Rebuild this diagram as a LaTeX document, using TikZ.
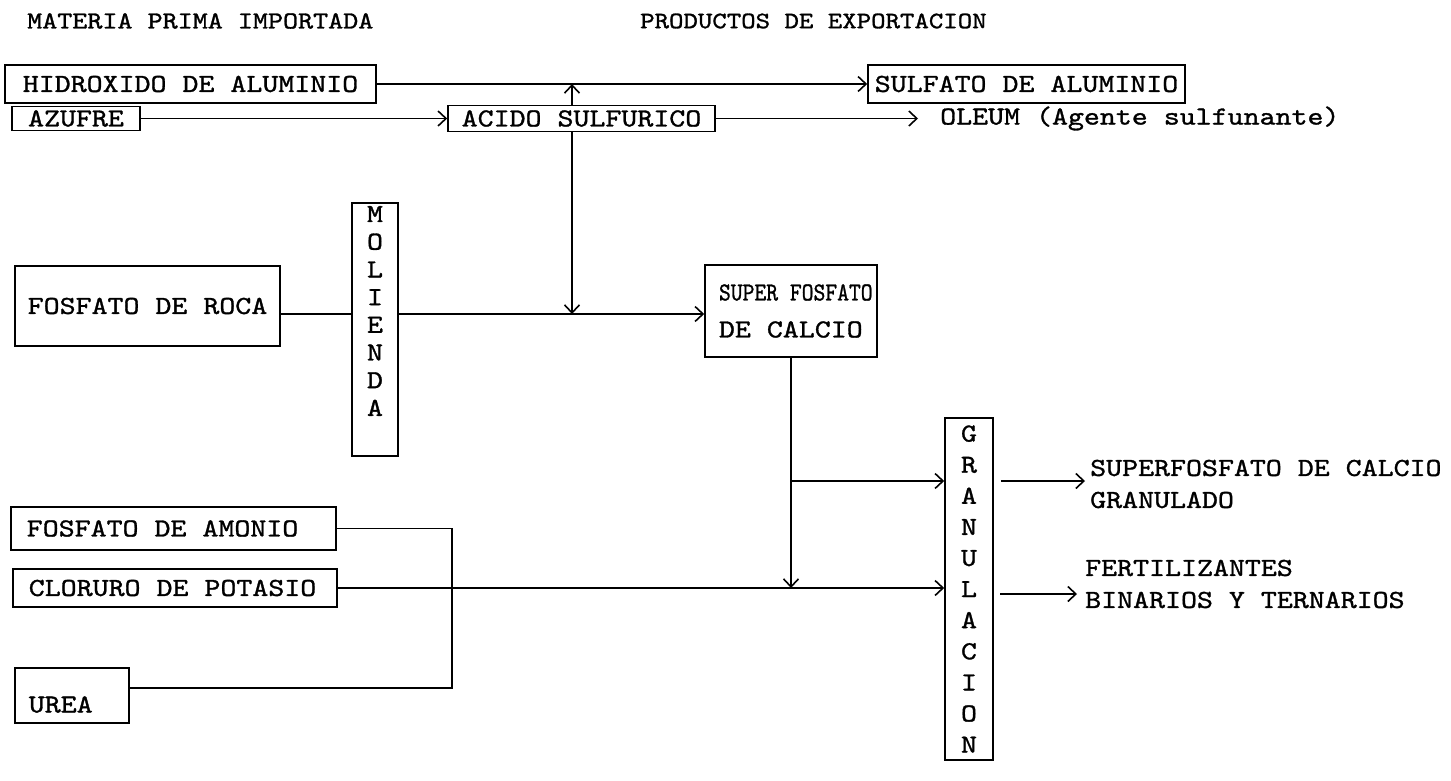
\documentclass[tikz,border=0pt]{standalone}
\usepackage{fontspec}
\newfontfamily\tw{lmmono10-regular}[Extension=.otf,FakeStretch=1.17,FakeBold=1.2]
\usetikzlibrary{arrows.meta}
\tikzset{
  fnt/.style={font=\tw\fontsize{26}{30}\selectfont},
  box/.style={draw, line width=1.6pt, inner sep=0pt, fnt},
  txt/.style={inner sep=0pt, fnt},
  conn/.style={line width=1.6pt},
  arr/.style={line width=1.6pt, -{Straight Barb[length=8pt,width=15pt,line width=1.6pt]}},
}
\begin{document}
\begin{tikzpicture}[x=1pt,y=-1pt]
\useasboundingbox (0,0) rectangle (1451,781);
% titles
\node[txt, anchor=west, font=\tw\fontsize{24.5}{28}\selectfont] (t1) at (27,21) {MATERIA PRIMA IMPORTADA};
\node[txt, anchor=west, font=\tw\fontsize{23.5}{28}\selectfont] (t2) at (640,21) {PRODUCTOS DE EXPORTACION};
% boxes
\node[box, minimum width=371pt, minimum height=38pt] (hid) at (190.5,84) {HIDROXIDO DE ALUMINIO};
\node[box, minimum width=317pt, minimum height=38pt] (sul) at (1026.5,84) {SULFATO DE ALUMINIO};
\node[box, minimum width=128pt, minimum height=24pt] (azu) at (76,118.5) {AZUFRE};
\node[box, minimum width=267pt, minimum height=26pt] (aci) at (581.5,118.5) {ACIDO SULFURICO};
\node[txt, anchor=west] (ole) at (940,118.5) {OLEUM (Agente sulfunante)};
\node[box, minimum width=46pt, minimum height=253pt] (mol) at (375,329.5) {};
\node[txt, align=center, font=\tw\fontsize{26}{27.7}\selectfont] (molt) at (375,311) {M\\O\\L\\I\\E\\N\\D\\A};
\node[box, minimum width=265pt, minimum height=80pt] (ros) at (147.5,306) {FOSFATO DE ROCA};
\node[box, minimum width=172pt, minimum height=92pt, inner xsep=14pt, align=left, font=\tw\fontsize{26}{37}\selectfont] (sfc) at (791,311) {\makebox[144pt][l]{\scalebox{0.74}[1]{SUPER FOSFATO}}\\DE CALCIO};
\node[box, minimum width=48pt, minimum height=342pt, align=center, font=\tw\fontsize{26}{31.1}\selectfont] (gra) at (969,589) {G\\R\\A\\N\\U\\L\\A\\C\\I\\O\\N};
\node[box, anchor=west, minimum height=43pt, inner xsep=16pt] (amo) at (10,528.5) {\makebox[293pt][l]{FOSFATO DE AMONIO}};
\node[box, anchor=west, minimum height=38pt, inner xsep=16pt] (clo) at (12,588) {\makebox[292pt][l]{CLORURO DE POTASIO}};
\node[box, anchor=west, minimum height=55pt, inner xsep=14pt, text height=34pt, text depth=0pt] (ure) at (14,695.5) {\makebox[86pt][l]{UREA}};
\node[txt, anchor=west, align=left, font=\tw\fontsize{26}{32}\selectfont] (o1) at (1090,484) {SUPERFOSFATO DE CALCIO\\GRANULADO};
\node[txt, anchor=west, align=left, font=\tw\fontsize{26}{32}\selectfont] (o2) at (1085,584) {FERTILIZANTES\\BINARIOS Y TERNARIOS};
% junctions
\coordinate (j1) at (572,84);
\coordinate (jr) at (572,314);
\coordinate (j3) at (791,481);
\coordinate (j4) at (791,588);
\coordinate (j6) at (993,594);
\coordinate (jb) at (452,688);
% connectors
\draw[arr] (hid.east) -- (sul.west);
\draw[arr] (aci.north -| j1) -- (j1);
\draw[arr] (azu.east) -- (aci.west);
\draw[arr, shorten >=22pt] (aci.east) -- (aci.east -| ole.west);
\draw[arr] (aci.south -| jr) -- (jr);
\draw[conn] (ros.east |- jr) -- (mol.west |- jr);
\draw[arr] (mol.east |- jr) -- (sfc.west |- jr);
\draw[arr] (sfc.south) -- (j4);
\draw[arr] (j3) -- (j3 -| gra.west);
\draw[arr] (clo.east) -- (clo.east -| gra.west);
\draw[conn] (amo.east) -- (amo.east -| jb) -- (jb) -- (jb -| ure.east);
\draw[arr, shorten <=7pt, shorten >=5pt] (gra.east |- j3) -- (o1.west |- j3);
\draw[arr, shorten <=7pt, shorten >=8pt] (j6) -- (j6 -| o2.west);
\end{tikzpicture}
\end{document}
